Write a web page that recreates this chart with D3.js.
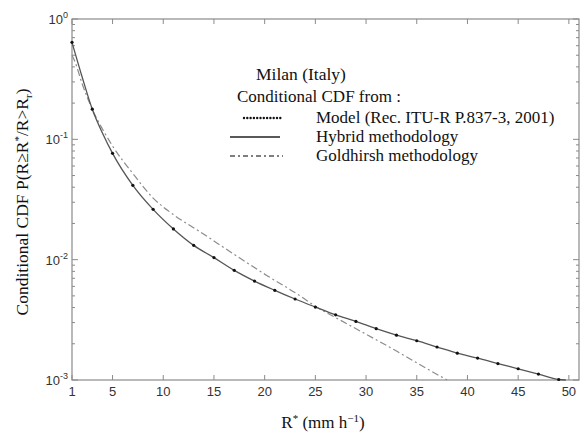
<!DOCTYPE html>
<html>
<head>
<meta charset="utf-8">
<script src="https://cdn.jsdelivr.net/npm/d3@7"></script>
</head>
<body style="margin:0">
<svg id="chart" width="585" height="434" font-family="'Liberation Serif'"></svg>
<script>
// Rain rate thresholds R* (mm/h) where the model is evaluated
const modelR = [1, 3, 5, 7, 9, 11, 13, 15, 17, 19, 21, 23, 25, 27, 29, 31, 33, 35, 37, 39, 41, 43, 45, 47, 49];
// Conditional CDF from Rec. ITU-R P.837-3 model
const modelP = [0.64, 0.178, 0.0765, 0.0415, 0.0262, 0.0180, 0.01315, 0.0104, 0.00815, 0.00664, 0.00556, 0.00471, 0.00404, 0.00348, 0.00307, 0.00267, 0.00236, 0.00212, 0.00188, 0.00167, 0.00152, 0.00137, 0.00124, 0.00112, 0.00101];
// Hybrid methodology curve
const hybridR = [1, 2, 3, 4, 5, 7, 9, 11, 13, 15, 17, 19, 21, 23, 25, 27, 29, 31, 33, 35, 37, 39, 41, 43, 45, 47, 49, 49.7];
const hybridP = [0.64, 0.33, 0.178, 0.113, 0.0765, 0.0415, 0.0262, 0.0180, 0.01315, 0.0104, 0.00815, 0.00664, 0.00556, 0.00471, 0.00404, 0.00348, 0.00307, 0.00267, 0.00236, 0.00212, 0.00188, 0.00167, 0.00152, 0.00137, 0.00124, 0.00112, 0.00101, 0.001];
// Goldhirsh methodology curve
const goldR = [1, 1.3, 2, 3, 4, 5, 7, 9, 11, 13.6, 16.9, 20.2, 23.5, 25, 27, 30, 33, 36, 38];
const goldP = [0.5, 0.44, 0.29, 0.178, 0.122, 0.088, 0.052, 0.0325, 0.0237, 0.0171, 0.0112, 0.0074, 0.0050, 0.0041, 0.0033, 0.0024, 0.00174, 0.00124, 0.001];

const xTicks = [1, 5, 10, 15, 20, 25, 30, 35, 40, 45, 50];
const yTickExps = [0, -1, -2, -3];

const SERIF = "'Liberation Serif'";
const SANS = "'Liberation Sans'";

const svg = d3.select("#chart");
const m = { left: 72, right: 579, top: 19, bottom: 380 };

const x = d3.scaleLinear().domain([1, 51]).range([m.left, m.right]);
const y = d3.scaleLog().domain([1e-3, 1]).range([m.bottom, m.top]);

const axisColor = "#8a8a8a";

function serifText(xp, yp, size) {
  return svg.append("text").style("font-family", SERIF).style("font-size", size + "px")
    .attr("x", xp).attr("y", yp).attr("fill", "#111");
}

// Axis titles
const xl = serifText(323, 428, 17).attr("text-anchor", "middle");
xl.append("tspan").text("R");
xl.append("tspan").attr("dy", -6).style("font-size", "11px").text("*");
xl.append("tspan").attr("dy", 6).text(" (mm h");
xl.append("tspan").attr("dy", -6).style("font-size", "11px").text("−1");
xl.append("tspan").attr("dy", 6).text(")");

const yl = serifText(0, 0, 17.5).attr("transform", "translate(28,202) rotate(-90)").attr("text-anchor", "middle");
yl.append("tspan").text("Conditional CDF P(R≥R");
yl.append("tspan").attr("dy", -6).style("font-size", "11px").text("*");
yl.append("tspan").attr("dy", 6).text("/R>R");
yl.append("tspan").attr("dy", 4).style("font-size", "11px").text("r");
yl.append("tspan").attr("dy", -4).text(")");

// Annotation and legend
serifText(256, 80, 17.5).text("Milan (Italy)");
serifText(237, 102, 17).text("Conditional CDF from :");

const legend = [
  { label: "Model (Rec. ITU-R P.837-3, 2001)", y: 118, kind: "dots" },
  { label: "Hybrid methodology", y: 137, kind: "solid" },
  { label: "Goldhirsh methodology", y: 156, kind: "dashdot" }
];
legend.forEach(l => {
  if (l.kind === "dots") {
    d3.range(0, 12).forEach(i => {
      svg.append("circle").attr("cx", 244 + i * 3.3).attr("cy", l.y).attr("r", 1.2).attr("fill", "#111");
    });
  } else if (l.kind === "solid") {
    svg.append("line").attr("x1", 230).attr("x2", 280).attr("y1", l.y).attr("y2", l.y)
      .attr("stroke", "#222").attr("stroke-width", 1.5);
  } else {
    svg.append("line").attr("x1", 230).attr("x2", 283).attr("y1", l.y).attr("y2", l.y)
      .attr("stroke", "#555").attr("stroke-width", 1.3).attr("stroke-dasharray", "5,3,2,3");
  }
  serifText(316, l.y + 5, 17).text(l.label);
});

// Plot frame
svg.append("rect")
  .attr("x", m.left).attr("y", m.top)
  .attr("width", m.right - m.left).attr("height", m.bottom - m.top)
  .attr("fill", "none").attr("stroke", axisColor).attr("stroke-width", 1.2);

// X ticks (inward, bottom and top)
const gx = svg.append("g");
xTicks.forEach(t => {
  gx.append("line").attr("x1", x(t)).attr("x2", x(t)).attr("y1", m.bottom).attr("y2", m.bottom - 5)
    .attr("stroke", axisColor);
  gx.append("line").attr("x1", x(t)).attr("x2", x(t)).attr("y1", m.top).attr("y2", m.top + 5)
    .attr("stroke", axisColor);
  gx.append("text").style("font-family", SANS).style("font-size", "13px")
    .attr("x", x(t)).attr("y", m.bottom + 16)
    .attr("text-anchor", "middle").attr("fill", "#333").text(t);
});

// Y ticks: major decades and minor ticks, inward on both sides
const gy = svg.append("g");
const minorVals = [];
for (let e = -3; e < 0; e++) for (let k = 2; k <= 9; k++) minorVals.push(k * Math.pow(10, e));
minorVals.forEach(v => {
  gy.append("line").attr("x1", m.left).attr("x2", m.left + 3).attr("y1", y(v)).attr("y2", y(v)).attr("stroke", axisColor);
  gy.append("line").attr("x1", m.right).attr("x2", m.right - 3).attr("y1", y(v)).attr("y2", y(v)).attr("stroke", axisColor);
});
yTickExps.forEach(e => {
  const v = Math.pow(10, e);
  gy.append("line").attr("x1", m.left).attr("x2", m.left + 6).attr("y1", y(v)).attr("y2", y(v)).attr("stroke", axisColor);
  gy.append("line").attr("x1", m.right).attr("x2", m.right - 6).attr("y1", y(v)).attr("y2", y(v)).attr("stroke", axisColor);
  const txt = gy.append("text").style("font-family", SANS).style("font-size", "13px")
    .attr("x", m.left - 4).attr("y", y(v) + 5)
    .attr("text-anchor", "end").attr("fill", "#333");
  txt.append("tspan").text("10");
  txt.append("tspan").attr("dy", -6).style("font-size", "9px").text(e);
});

// Curves
const curveLine = d3.line().curve(d3.curveMonotoneX).x(d => x(d[0])).y(d => y(d[1]));

svg.append("path")
  .datum(goldR.map((r, i) => [r, goldP[i]]))
  .attr("d", curveLine)
  .attr("fill", "none").attr("stroke", "#8c8c8c").attr("stroke-width", 1.2)
  .attr("stroke-dasharray", "7,3,2,3");

svg.append("path")
  .datum(hybridR.map((r, i) => [r, hybridP[i]]))
  .attr("d", curveLine)
  .attr("fill", "none").attr("stroke", "#555").attr("stroke-width", 1.3);

svg.append("g").selectAll("circle")
  .data(modelR.map((r, i) => [r, modelP[i]]))
  .join("circle")
  .attr("cx", d => x(d[0])).attr("cy", d => y(d[1])).attr("r", 1.6).attr("fill", "#111");
</script>
</body>
</html>
